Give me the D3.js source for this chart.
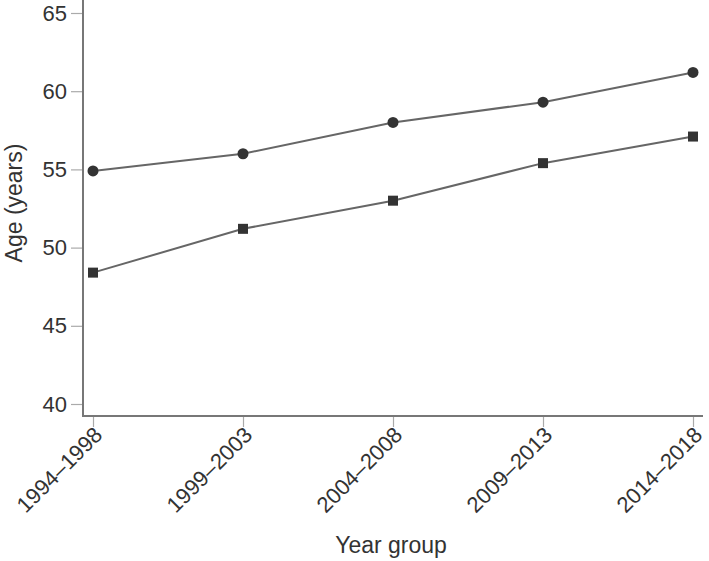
<!DOCTYPE html>
<html>
<head>
<meta charset="utf-8">
<script src="https://cdn.jsdelivr.net/npm/d3@7"></script>
<style>
  body { margin: 0; background: #fff; }
  svg { font-family: "Liberation Sans", Arial, sans-serif; }
</style>
</head>
<body>
<div id="chart"></div>
<script>
var groups = ["1994\u20131998", "1999\u20132003", "2004\u20132008", "2009\u20132013", "2014\u20132018"];
var circleSeries = [54.9, 56.0, 58.0, 59.3, 61.2];
var squareSeries = [48.4, 51.2, 53.0, 55.4, 57.1];
var yTicks = [40, 45, 50, 55, 60, 65];

var width = 709, height = 561;
var axisLeft = 83, axisBottom = 416, axisRight = 703;

var svg = d3.select("#chart").append("svg")
    .attr("width", width)
    .attr("height", height);

var x = d3.scalePoint().domain(groups).range([93, 693]);
var y = d3.scaleLinear().domain([40, 65]).range([404, 13]);

// y axis
var yAxis = svg.append("g")
    .attr("transform", "translate(" + axisLeft + ",0)")
    .call(d3.axisLeft(y).tickValues(yTicks).tickSize(12).tickPadding(4));
yAxis.select(".domain").remove();
yAxis.selectAll(".tick line").attr("stroke", "#aaa").attr("stroke-width", 1.2);
yAxis.selectAll(".tick text").attr("fill", "#333").style("font-size", "22px");

// x axis
var xAxis = svg.append("g")
    .attr("transform", "translate(0," + axisBottom + ")")
    .call(d3.axisBottom(x).tickSize(11).tickPadding(4));
xAxis.select(".domain").remove();
xAxis.selectAll(".tick line").attr("stroke", "#aaa").attr("stroke-width", 1.2);
xAxis.selectAll(".tick text")
    .attr("fill", "#333")
    .style("font-size", "22px")
    .attr("text-anchor", "end")
    .attr("dy", null)
    .attr("x", 6)
    .attr("y", 22)
    .attr("transform", "rotate(-45,6,16)");

// axis lines
svg.append("path")
    .attr("d", "M" + axisLeft + ",0V" + axisBottom + "H" + axisRight)
    .attr("fill", "none")
    .attr("stroke", "#777")
    .attr("stroke-width", 2);

var line = d3.line()
    .x(function (d, i) { return x(groups[i]); })
    .y(function (d) { return y(d); });

[circleSeries, squareSeries].forEach(function (s) {
    svg.append("path")
        .datum(s)
        .attr("d", line)
        .attr("fill", "none")
        .attr("stroke", "#666")
        .attr("stroke-width", 2);
});

svg.selectAll(".dot")
    .data(circleSeries).enter()
    .append("circle")
    .attr("cx", function (d, i) { return x(groups[i]); })
    .attr("cy", function (d) { return y(d); })
    .attr("r", 5.5)
    .attr("fill", "#333");

svg.selectAll(".sq")
    .data(squareSeries).enter()
    .append("rect")
    .attr("x", function (d, i) { return x(groups[i]) - 5; })
    .attr("y", function (d) { return y(d) - 5; })
    .attr("width", 10)
    .attr("height", 10)
    .attr("fill", "#333");

// axis titles
svg.append("text")
    .attr("x", 391)
    .attr("y", 553)
    .attr("text-anchor", "middle")
    .attr("fill", "#333")
    .style("font-size", "23px")
    .text("Year group");

svg.append("text")
    .attr("transform", "translate(22,203) rotate(-90)")
    .attr("text-anchor", "middle")
    .attr("fill", "#333")
    .style("font-size", "23px")
    .text("Age (years)");
</script>
</body>
</html>
